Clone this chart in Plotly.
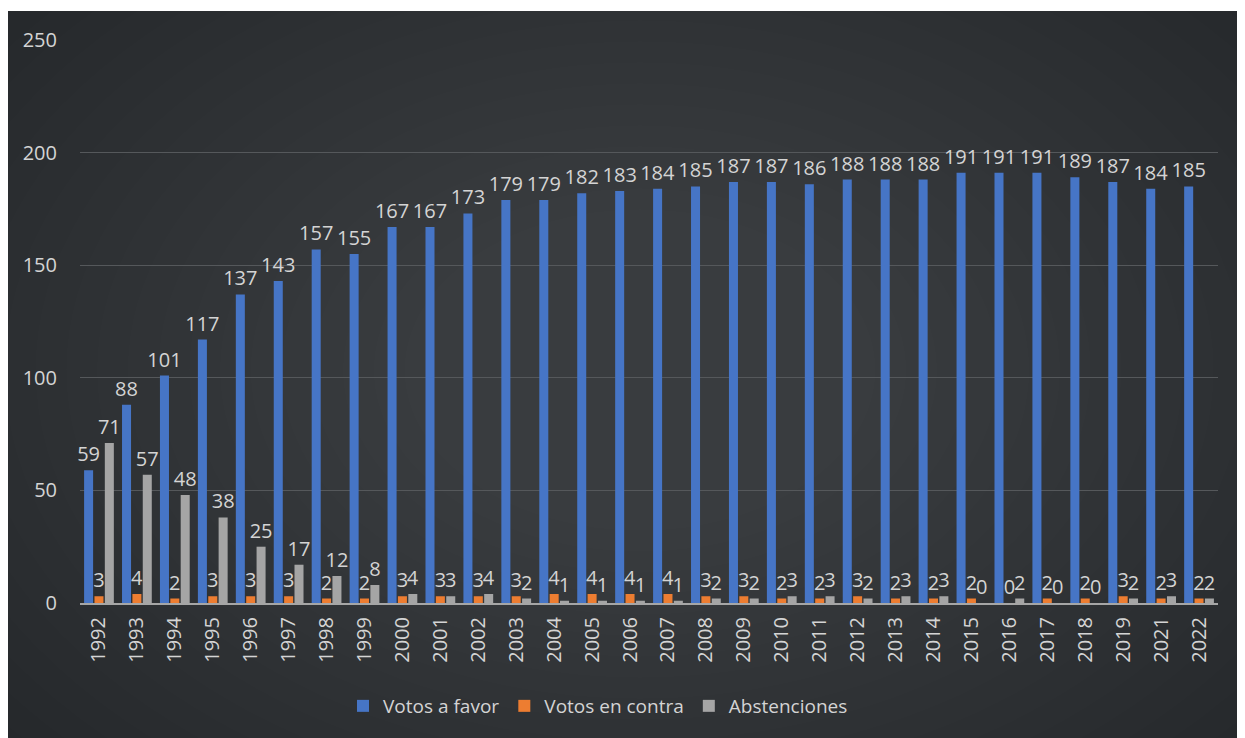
import plotly.graph_objects as go

years = ["1992","1993","1994","1995","1996","1997","1998","1999","2000","2001",
         "2002","2003","2004","2005","2006","2007","2008","2009","2010","2011",
         "2012","2013","2014","2015","2016","2017","2018","2019","2021","2022"]
favor = [59, 88, 101, 117, 137, 143, 157, 155, 167, 167,
         173, 179, 179, 182, 183, 184, 185, 187, 187, 186,
         188, 188, 188, 191, 191, 191, 189, 187, 184, 185]
contra = [3, 4, 2, 3, 3, 3, 2, 2, 3, 3,
          3, 3, 4, 4, 4, 4, 3, 3, 2, 2,
          3, 2, 2, 2, 0, 2, 2, 3, 2, 2]
abst = [71, 57, 48, 38, 25, 17, 12, 8, 4, 3,
        4, 2, 1, 1, 1, 1, 2, 2, 3, 3,
        2, 3, 3, 0, 2, 0, 0, 2, 3, 2]
series_names = ["Votos a favor", "Votos en contra", "Abstenciones"]
colors = ["#4675c6", "#ed7d31", "#a5a5a5"]

txt_color = "#d4d4d4"
font_family = "Open Sans, DejaVu Sans, sans-serif"

fig = go.Figure()
for name, vals, col in zip(series_names, [favor, contra, abst], colors):
    fig.add_trace(go.Bar(
        x=years, y=vals, name=name, marker_color=col, marker_line_width=0,
        text=[str(v) for v in vals], textposition="outside",
        textfont=dict(color=txt_color, size=20, family=font_family),
        constraintext="none", cliponaxis=False,
    ))

# page has an 8px body margin; work in page pixels and convert
OFF = 8
W, H = 1245 - OFF, 738 - OFF
PL, PR, PT, PB = 80, 1218, 40, 603  # plot area in page pixels
L, T = PL - OFF, PT - OFF
R = W - (PR - OFF)
B = H - (PB - OFF)
pw, ph = PR - PL, PB - PT

def px2paper(x, y):
    return (x - PL) / pw, (PB - y) / ph

shapes = []
x0, y0 = px2paper(6, 11)
x1, y1 = px2paper(1245, 738)
shapes.append(dict(type="rect", xref="paper", yref="paper", x0=x0, x1=x1, y0=y1, y1=y0,
                   fillcolor="#25282b", line_width=0, layer="below"))
# radial light in the centre (stacked translucent ellipses)
cx, cy = 640, 370
rx_max, ry_max = 820, 560
n = 20
for i in range(n):
    f = 1 - i / n * 0.75
    ex0, ey0 = px2paper(cx - rx_max * f, cy - ry_max * f)
    ex1, ey1 = px2paper(cx + rx_max * f, cy + ry_max * f)
    shapes.append(dict(type="circle", xref="paper", yref="paper",
                       x0=ex0, x1=ex1, y0=ey1, y1=ey0, opacity=0.0095,
                       fillcolor="white", line_width=0, layer="below"))
# re-cover outside of the dark panel with white (ellipses may overflow)
wx0, wy0 = px2paper(-50, -80)
wx1, wy1 = px2paper(1400, 11)
shapes.append(dict(type="rect", xref="paper", yref="paper", x0=wx0, x1=wx1, y0=wy1, y1=wy0,
                   fillcolor="white", line_width=0, layer="below"))
wx0, wy0 = px2paper(-80, -80)
wx1, wy1 = px2paper(6, 900)
shapes.append(dict(type="rect", xref="paper", yref="paper", x0=wx0, x1=wx1, y0=wy1, y1=wy0,
                   fillcolor="white", line_width=0, layer="below"))

fig.update_layout(
    width=W, height=H,
    paper_bgcolor="white", plot_bgcolor="rgba(0,0,0,0)",
    margin=dict(l=L, r=R, t=T, b=B, autoexpand=False),
    barmode="group", bargap=0.18, bargroupgap=0.13,
    font=dict(family=font_family, color=txt_color, size=19),
    shapes=shapes,
    showlegend=True,
    legend=dict(orientation="h", x=(598 - PL) / pw, xanchor="center",
                y=(PB - 706) / ph, yanchor="middle",
                font=dict(size=19, color=txt_color, family=font_family),
                bgcolor="rgba(0,0,0,0)", traceorder="normal", itemwidth=30),
    xaxis=dict(type="category", tickangle=-90, showgrid=False, showline=True,
               linecolor="#a6a6a6", linewidth=2, ticks="", ticklabelstandoff=4,
               tickfont=dict(size=20, color=txt_color, family=font_family)),
    yaxis=dict(range=[0, 250], dtick=50, showgrid=True, gridcolor="#55585b", gridwidth=1,
               zeroline=False, showline=False, ticks="", ticklabelstandoff=22,
               tickfont=dict(size=20, color=txt_color, family=font_family)),
)

fig.write_html("out.html")
